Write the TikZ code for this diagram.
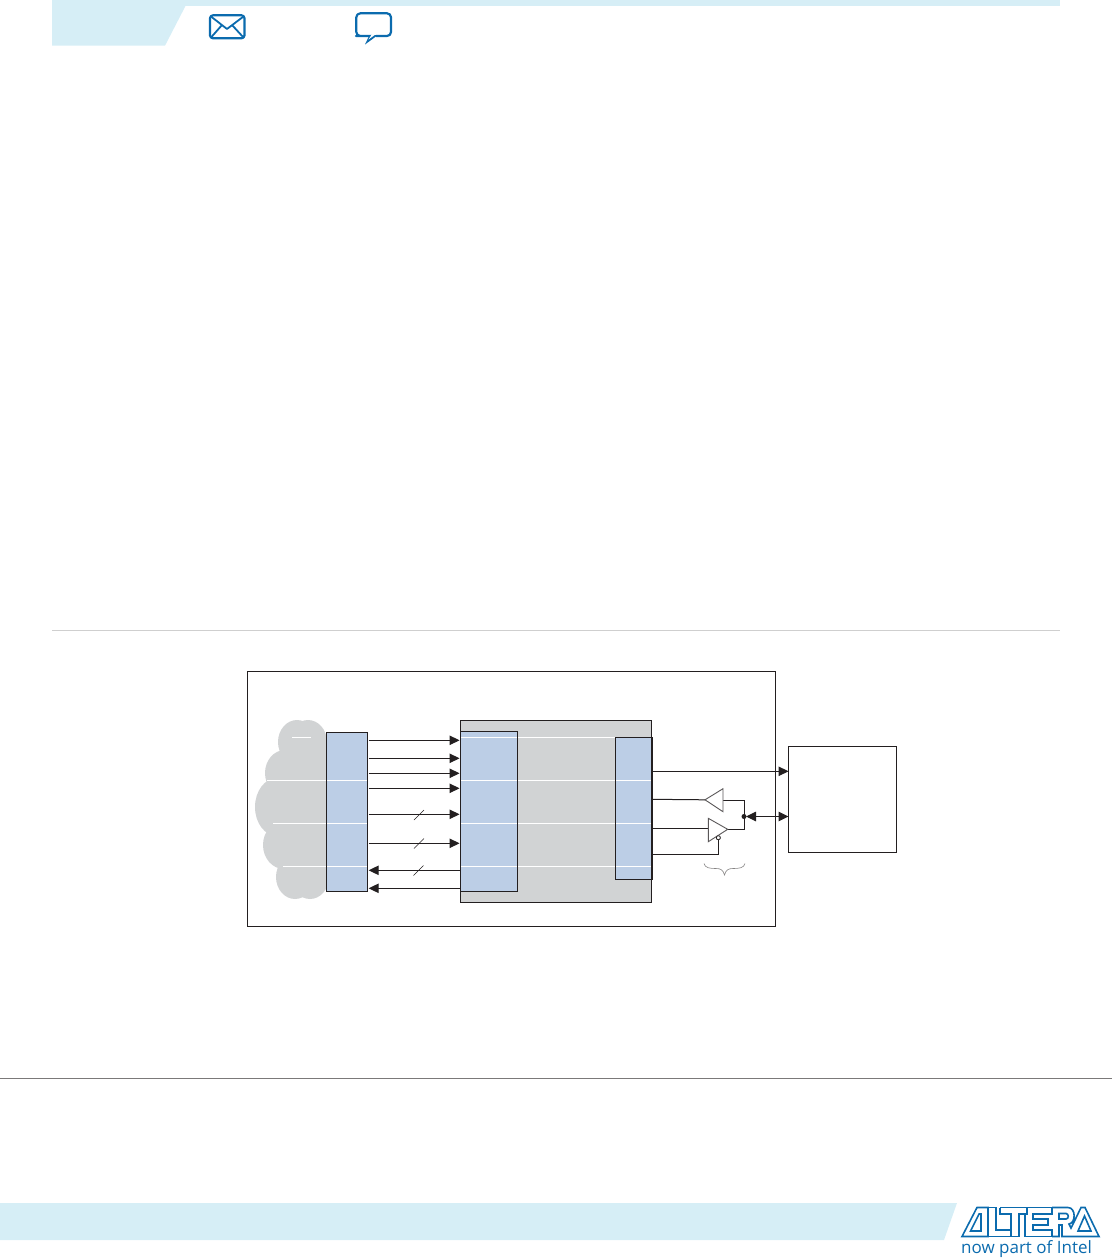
\documentclass[tikz,border=0pt]{standalone}
\usepackage{fontspec}
\newfontfamily\logofont{Open Sans}
\usetikzlibrary{arrows.meta}
\definecolor{band}{HTML}{D6EEF6}
\definecolor{ink}{HTML}{231F20}
\definecolor{cloudgray}{HTML}{D1D3D4}
\definecolor{boxblue}{HTML}{BCCEE6}
\definecolor{brand}{HTML}{0B6BAE}
\definecolor{rulegray}{HTML}{CFCFCF}
\tikzset{
  x=1pt,y=-1pt,
  framebox/.style={draw=ink,line width=1pt,inner sep=0pt,outer sep=0pt},
  bluebox/.style={framebox,fill=boxblue},
  graybox/.style={framebox,fill=cloudgray},
  wire/.style={draw=ink,line width=1pt},
  arrowwire/.style={wire,-{Triangle[length=10pt,width=9.5pt]}},
  bothwire/.style={wire,{Triangle[length=10pt,width=9.5pt]}-{Triangle[length=10pt,width=9.5pt]}},
  buffer/.style={draw=ink!75,line width=0.9pt,line join=miter,fill=white},
  pinpoint/.style={inner sep=0pt,outer sep=0pt,minimum size=0pt},
  slash/.style={draw=ink,line width=0.6pt},
  scanline/.style={draw=white,line width=0.8pt},
  icon/.style={draw=brand,line width=2.2pt,line join=round},
  logoline/.style={draw=brand,line width=1.6pt,line join=miter},
}
\begin{document}
\begin{tikzpicture}
\useasboundingbox (0,0) rectangle (1112,1258);
% page furniture
\fill[band] (52,0) rectangle (1060,5.7);
\fill[band] (52,5) -- (186,5) -- (165,45.7) -- (52,45.7) -- cycle;
\fill[band] (0,1203) -- (957,1203) -- (944,1240) -- (0,1240) -- cycle;
\draw[rulegray,line width=0.8pt] (52,630.5) -- (1060,630.5);
\draw[ink!60,line width=0.8pt] (0,1078.5) -- (1112,1078.5);
% envelope
\draw[icon,rounded corners=3pt] (210,15.3) rectangle (244.5,38.3);
\draw[icon,line width=1.8pt] (211,16.5) -- (227,29) -- (243.5,16.5);
\draw[icon,line width=1.8pt] (211,37.5) -- (222,25);
\draw[icon,line width=1.8pt] (243.5,37.5) -- (232,25);
% speech bubble
\draw[icon,rounded corners=4pt] (372,36) -- (360,36) -- (356.3,36) -- (356.3,13.3) -- (391,13.3) -- (391,36) -- (376,36);
\fill[brand] (369.5,35) -- (378,35) -- (365,44.5) -- cycle;
\fill[white] (371.5,34.8) -- (375,34.8) -- (368.5,39.5) -- cycle;
% cloud
\fill[cloudgray] (297,742) ellipse [x radius=19,y radius=22];
\fill[cloudgray] (308,742) ellipse [x radius=19,y radius=22];
\fill[cloudgray] (285,773) ellipse [x radius=20,y radius=23];
\fill[cloudgray] (277,807) ellipse [x radius=22,y radius=29];
\fill[cloudgray] (284,845) ellipse [x radius=21,y radius=24];
\fill[cloudgray] (295,877) ellipse [x radius=19,y radius=22];
\fill[cloudgray] (310,877) ellipse [x radius=19,y radius=22];
\fill[cloudgray] (285,740) rectangle (327,885);
% frames
\node[framebox,minimum width=528pt,minimum height=254.5pt] (device) at (511.5,798.75) {};
\node[framebox,minimum width=108pt,minimum height=106pt] (memory) at (842.5,799.5) {};
\node[graybox,minimum width=191pt,minimum height=182pt] (core) at (556,811.5) {};
\node[bluebox,minimum width=41.2pt,minimum height=159.4pt] (user) at (347.1,812) {};
\node[bluebox,minimum width=57pt,minimum height=159.5pt] (ctrl) at (489,811.25) {};
\node[bluebox,minimum width=37pt,minimum height=142pt] (phy) at (634,808.5) {};
% pale scan lines over the fills
\coordinate (lineA) at (0,737.3);
\coordinate (lineB) at (0,780.3);
\coordinate (lineC) at (0,823.3);
\coordinate (lineD) at (0,866.3);
\draw[scanline] (292,737.3) -- (311,737.3);
\draw[scanline] (ctrl.west |- lineA) -- (phy.east |- lineA);
\draw[scanline] (267,780.3) -- (phy.east |- lineB);
\draw[scanline] (273,823.3) -- (phy.east |- lineC);
\draw[scanline] (283,866.3) -- (phy.east |- lineD);
% outlines above the scan lines
\draw[framebox] (user.south west) rectangle (user.north east);
\draw[framebox] (ctrl.south west) rectangle (ctrl.north east);
\draw[framebox] (phy.south west) rectangle (phy.north east);
\draw[framebox] (core.south west) rectangle (core.north east);
% user to controller
\coordinate (ya) at (0,740.3);
\coordinate (yb) at (0,758.3);
\coordinate (yc) at (0,773.3);
\coordinate (yd) at (0,788.3);
\coordinate (ye) at (0,814.3);
\coordinate (yf) at (0,843.3);
\coordinate (yg) at (0,870.3);
\coordinate (yh) at (0,888.3);
\draw[arrowwire] ([xshift=1pt]user.east |- ya) -- ([xshift=-1pt]ctrl.west |- ya);
\draw[arrowwire] ([xshift=1pt]user.east |- yb) -- ([xshift=-1pt]ctrl.west |- yb);
\draw[arrowwire] ([xshift=1pt]user.east |- yc) -- ([xshift=-1pt]ctrl.west |- yc);
\draw[arrowwire] ([xshift=1pt]user.east |- yd) -- ([xshift=-1pt]ctrl.west |- yd);
\draw[arrowwire] ([xshift=1pt]user.east |- ye) -- ([xshift=-1pt]ctrl.west |- ye);
\draw[arrowwire] ([xshift=1pt]user.east |- yf) -- ([xshift=-1pt]ctrl.west |- yf);
\draw[arrowwire] (ctrl.west |- yg) -- ([xshift=1pt]user.east |- yg);
\draw[arrowwire] (ctrl.west |- yh) -- ([xshift=1pt]user.east |- yh);
\draw[slash] (414,820) -- (424,810);
\draw[slash] (414,848.5) -- (424,838.5);
\draw[slash] (413.5,875.5) -- (423.5,865.5);
% phy to memory
\coordinate (yk) at (0,771.3);
\coordinate (yl) at (0,799.3);
\coordinate (ym) at (0,828.8);
\coordinate (yn) at (0,854.3);
\coordinate (yo) at (0,816.5);
\draw[arrowwire] (phy.east |- yk) -- (memory.west |- yk);
\node[pinpoint] (rxin) at (705,799.8) {};
\node[pinpoint] (rxout) at (723,800) {};
\node[pinpoint] (txin) at (708.3,828.8) {};
\node[pinpoint] (txout) at (727.7,829.3) {};
\node[circle,draw=ink,fill=white,line width=0.7pt,inner sep=0pt,minimum size=4pt] (oebubble) at (718.3,837.7) {};
\node[circle,fill=ink,inner sep=0pt,minimum size=5pt] (join) at (744,816.5) {};
\draw[wire] (phy.east |- yl) -- (rxin);
\draw[wire] (phy.east |- ym) -- (txin);
\draw[wire] (phy.east |- yn) -- (oebubble.south |- yn) -- (oebubble.south);
\draw[wire] (rxout) -- (744.5,800) -- (744.5,829.3) -- (txout);
\draw[buffer] (rxin.center) -- (723,788.7) -- (723,811.7) -- cycle;
\draw[buffer] (708.3,818.3) -- (txout.center) -- (708.3,841.7) -- cycle;
\node[circle,draw=ink,fill=white,line width=0.7pt,inner sep=0pt,minimum size=4pt] at (oebubble) {};
\draw[bothwire] ([xshift=2pt]join.center) -- (memory.west |- yo);
% brace
\draw[ink!55,line width=0.6pt] (704,863.5) .. controls (705,868) and (710,868.5) .. (716,868.5)
  .. controls (721,868.5) and (723,870) .. (724.5,875)
  .. controls (726,870) and (728,868.5) .. (733,868.5)
  .. controls (739,868.5) and (744,868) .. (745,863.5);
% logo
\draw[logoline] (962,1236.5) -- (977,1207.5) -- (988,1207.5) -- (988,1236.5) -- cycle;
\draw[logoline] (970.5,1231) -- (979,1214) -- (981,1214) -- (981,1231) -- cycle;
\draw[logoline] (988,1207.5) -- (996,1207.5) -- (996,1230) -- (1011,1230) -- (1011,1236.5) -- (988,1236.5);
\draw[logoline] (1000,1207.5) -- (1027,1207.5) -- (1027,1214) -- (1019,1214) -- (1019,1236.5) -- (1011,1236.5);
\draw[logoline] (1000,1207.5) -- (1000,1214) -- (1011,1214) -- (1011,1230);
\draw[logoline] (1027,1207.5) -- (1052,1207.5) -- (1052,1214) -- (1033,1214) -- (1033,1219) -- (1048,1219) -- (1048,1225) -- (1033,1225) -- (1033,1230) -- (1052,1230) -- (1052,1236.5) -- (1025,1236.5) -- (1025,1214);
\draw[logoline] (1052,1207.5) -- (1068,1207.5) .. controls (1076,1207.5) and (1076,1223) .. (1069,1224) -- (1071,1228) -- (1075,1220) -- (1081,1207.5) -- (1085,1207.5) -- (1099,1236.5) -- (1062,1236.5) -- (1062,1225) -- (1059,1225) -- (1059,1236.5) -- (1052,1236.5);
\draw[logoline] (1059,1213.5) -- (1066,1213.5) .. controls (1069,1213.5) and (1069,1219) .. (1066,1219) -- (1059,1219) -- cycle;
\draw[logoline] (1078,1231) -- (1091,1231) -- (1084.5,1216) -- cycle;
\node[text=brand,inner sep=0pt,font=\logofont\fontsize{17}{20}\selectfont] (tagline) at (1026.5,1249.3) {now part of Intel};
\end{tikzpicture}
\end{document}
